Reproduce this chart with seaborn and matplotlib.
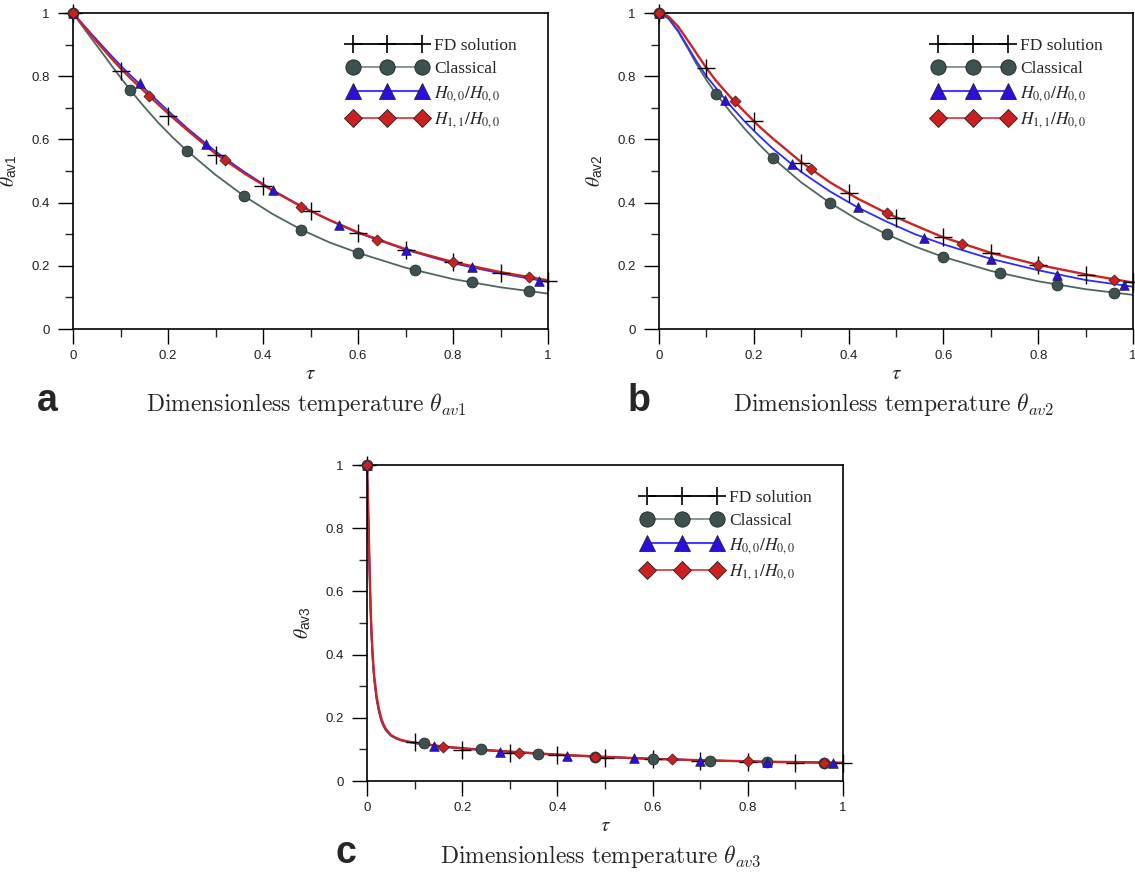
import numpy as np
import pandas as pd
import seaborn as sns
import matplotlib.pyplot as plt
from matplotlib.lines import Line2D

# %% Valores lidos da figura
# marcadores (posições em tau)
tau_fd = [0, 0.1, 0.2, 0.3, 0.4, 0.5, 0.6, 0.7, 0.8, 0.9, 1.0]
tau_cl = [0, 0.12, 0.24, 0.36, 0.48, 0.6, 0.72, 0.84, 0.96]
tau_h00 = [0, 0.14, 0.28, 0.42, 0.56, 0.7, 0.84, 0.98]
tau_h11 = [0, 0.16, 0.32, 0.48, 0.64, 0.8, 0.96]

fd_a = [1, 0.818, 0.673, 0.552, 0.451, 0.372, 0.304, 0.251, 0.212, 0.178, 0.153]
cl_a = [1, 0.757, 0.564, 0.420, 0.314, 0.241, 0.186, 0.148, 0.119]
h00_a = [1, 0.778, 0.586, 0.439, 0.329, 0.251, 0.195, 0.153]
h11_a = [1, 0.736, 0.534, 0.386, 0.283, 0.212, 0.164]

fd_b = [1, 0.826, 0.657, 0.525, 0.430, 0.351, 0.290, 0.241, 0.204, 0.172, 0.148]
cl_b = [1, 0.745, 0.541, 0.400, 0.300, 0.228, 0.177, 0.140, 0.114]
h00_b = [1, 0.726, 0.521, 0.385, 0.287, 0.222, 0.172, 0.138]
h11_b = [1, 0.720, 0.507, 0.367, 0.269, 0.201, 0.156]

fd_c = [1, 0.122, 0.098, 0.088, 0.082, 0.074, 0.069, 0.063, 0.061, 0.058, 0.058]
cl_c = [1, 0.119, 0.100, 0.084, 0.075, 0.069, 0.063, 0.059, 0.057]
h00_c = [1, 0.112, 0.093, 0.080, 0.072, 0.064, 0.059, 0.056]
h11_c = [1, 0.109, 0.090, 0.077, 0.069, 0.063, 0.058]

# curvas (linhas contínuas)
tau_curve = [0, 0.02, 0.04, 0.06, 0.08, 0.1, 0.12, 0.15, 0.18, 0.21, 0.24,
             0.3, 0.36, 0.42, 0.48, 0.54, 0.6, 0.7, 0.8, 0.9, 1.0]
cl_line_a = [1, 0.958, 0.917, 0.877, 0.836, 0.796, 0.757, 0.703, 0.652, 0.606, 0.564,
             0.488, 0.421, 0.364, 0.315, 0.274, 0.241, 0.194, 0.158, 0.132, 0.112]
h00_line_a = [1, 0.966, 0.932, 0.899, 0.866, 0.834, 0.804, 0.762, 0.719, 0.677, 0.636,
              0.562, 0.498, 0.440, 0.389, 0.344, 0.304, 0.251, 0.208, 0.176, 0.149]
h11_line_a = [1, 0.963, 0.927, 0.892, 0.858, 0.825, 0.795, 0.752, 0.710, 0.669, 0.630,
              0.555, 0.493, 0.438, 0.388, 0.345, 0.306, 0.253, 0.212, 0.180, 0.154]

cl_line_b = [1, 0.982, 0.942, 0.890, 0.836, 0.788, 0.745, 0.688, 0.635, 0.586, 0.541,
             0.464, 0.400, 0.345, 0.300, 0.261, 0.228, 0.184, 0.151, 0.126, 0.108]
h00_line_b = [1, 0.984, 0.945, 0.895, 0.845, 0.800, 0.763, 0.708, 0.658, 0.613, 0.571,
              0.497, 0.436, 0.384, 0.340, 0.300, 0.268, 0.222, 0.186, 0.155, 0.134]
h11_line_b = [1, 0.989, 0.958, 0.915, 0.870, 0.826, 0.786, 0.735, 0.688, 0.643, 0.603,
              0.528, 0.465, 0.412, 0.367, 0.328, 0.290, 0.241, 0.203, 0.173, 0.147]

tau_curve_c = [0, 0.0025, 0.005, 0.0075, 0.01, 0.0125, 0.015, 0.02, 0.025, 0.03, 0.035,
               0.04, 0.05, 0.06, 0.07, 0.08, 0.1, 0.12, 0.16, 0.2, 0.24, 0.3, 0.36,
               0.42, 0.48, 0.6, 0.72, 0.84, 1.0]
cl_line_c = [1, 0.84, 0.68, 0.54, 0.44, 0.37, 0.32, 0.258, 0.218, 0.190, 0.172,
             0.159, 0.143, 0.135, 0.129, 0.125, 0.120, 0.117, 0.109, 0.103, 0.099, 0.093, 0.087,
             0.082, 0.077, 0.070, 0.065, 0.061, 0.057]
h00_line_c = [1, 0.85, 0.69, 0.545, 0.45, 0.378, 0.328, 0.264, 0.223, 0.194, 0.175,
              0.161, 0.145, 0.136, 0.130, 0.126, 0.120, 0.116, 0.108, 0.103, 0.098, 0.092, 0.086,
              0.081, 0.077, 0.070, 0.065, 0.060, 0.057]
h11_line_c = [1, 0.86, 0.70, 0.55, 0.455, 0.385, 0.335, 0.27, 0.228, 0.198, 0.178,
              0.164, 0.146, 0.137, 0.131, 0.127, 0.121, 0.117, 0.109, 0.104, 0.099, 0.093, 0.087,
              0.082, 0.078, 0.070, 0.065, 0.061, 0.058]

tick_vals = [0, 0.2, 0.4, 0.6, 0.8, 1.0]
tick_labels = ['0', '0.2', '0.4', '0.6', '0.8', '1']
legend_labels = ['FD solution', 'Classical', r'$H_{0,0}/H_{0,0}$', r'$H_{1,1}/H_{0,0}$']

# %% Estilo
sns.set_style('ticks')
plt.rcParams['font.family'] = ['Liberation Sans', 'DejaVu Sans']
plt.rcParams['mathtext.fontset'] = 'stix'

cor_cl, cor_cl_line = '#3b5250', '#4f6664'
cor_h00, cor_h00_line = '#2a0fe0', '#2b2bff'
cor_h11, cor_h11_line = '#cc1f1f', '#cc2424'


def desenha_painel(ax, curve_tau, cl_line, h00_line, h11_line, fd, cl, h00, h11, sub):
    sns.lineplot(x=curve_tau, y=cl_line, ax=ax, color=cor_cl_line, lw=1.3, estimator=None, sort=False, zorder=2)
    sns.lineplot(x=curve_tau, y=h00_line, ax=ax, color=cor_h00_line, lw=1.3, estimator=None, sort=False, zorder=2.1)
    sns.lineplot(x=curve_tau, y=h11_line, ax=ax, color=cor_h11_line, lw=1.7, estimator=None, sort=False, zorder=2.2)
    sns.scatterplot(x=tau_fd, y=fd, ax=ax, marker='+', s=170, color='black', linewidth=1.0, zorder=3, clip_on=False)
    sns.scatterplot(x=tau_cl, y=cl, ax=ax, marker='o', s=62, color=cor_cl, edgecolor='#222222', linewidth=0.5, zorder=4, clip_on=False)
    sns.scatterplot(x=tau_h00, y=h00, ax=ax, marker='^', s=48, color=cor_h00, edgecolor='#222222', linewidth=0.5, zorder=4.1, clip_on=False)
    sns.scatterplot(x=tau_h11, y=h11, ax=ax, marker='D', s=32, color=cor_h11, edgecolor='#222222', linewidth=0.5, zorder=4.2, clip_on=False)

    ax.set_xlim(0, 1)
    ax.set_ylim(0, 1)
    ax.set_xticks(tick_vals)
    ax.set_xticklabels(tick_labels)
    ax.set_yticks(tick_vals)
    ax.set_yticklabels(tick_labels)
    ax.set_xticks([0.1, 0.3, 0.5, 0.7, 0.9], minor=True)
    ax.set_yticks([0.1, 0.3, 0.5, 0.7, 0.9], minor=True)
    ax.tick_params(which='major', direction='out', length=11, width=1.0, labelsize=9.5, colors='black', labelcolor='#222222')
    ax.tick_params(which='minor', direction='out', length=6, width=1.0)
    ax.tick_params(axis='x', which='major', pad=4)
    ax.tick_params(axis='y', which='major', pad=6)
    for s in ax.spines.values():
        s.set_linewidth(1.2)
        s.set_color('black')

    ax.set_xlabel(r'$\tau$', fontsize=15)
    ax.set_ylabel(r'$\theta_{\mathregular{' + sub + '}}$', fontsize=14)
    ax.xaxis.set_label_coords(0.5, -0.112)
    ax.yaxis.set_label_coords(-0.113, 0.5)

    handles = [
        Line2D([], [], color='black', lw=1.3, marker='+', markersize=13, markeredgewidth=1.2),
        Line2D([], [], color='#7d908d', lw=1.3, marker='o', markersize=11, markerfacecolor=cor_cl, markeredgecolor='#222222', markeredgewidth=0.6),
        Line2D([], [], color='#4b3cff', lw=1.5, marker='^', markersize=11, markerfacecolor=cor_h00, markeredgecolor='#222222', markeredgewidth=0.6),
        Line2D([], [], color='#e04040', lw=1.3, marker='D', markersize=9, markerfacecolor=cor_h11, markeredgecolor='#222222', markeredgewidth=0.6),
    ]
    ax.legend(handles, legend_labels, loc='upper left', bbox_to_anchor=(0.578, 0.92), frameon=False,
              numpoints=3, handlelength=4.6, handletextpad=0.4, labelspacing=0.38, borderpad=0,
              borderaxespad=0, prop={'family': 'Liberation Serif', 'size': 12.5})


# %% Figura
fig = plt.figure(figsize=(11.35, 8.75), dpi=100)
ax_a = fig.add_axes([73 / 1135, 1 - 329 / 875, 475 / 1135, 316 / 875])
ax_b = fig.add_axes([659 / 1135, 1 - 329 / 875, 474 / 1135, 316 / 875])
ax_c = fig.add_axes([367 / 1135, 1 - 781 / 875, 476 / 1135, 316 / 875])

desenha_painel(ax_a, tau_curve, cl_line_a, h00_line_a, h11_line_a, fd_a, cl_a, h00_a, h11_a, 'av1')
desenha_painel(ax_b, tau_curve, cl_line_b, h00_line_b, h11_line_b, fd_b, cl_b, h00_b, h11_b, 'av2')
desenha_painel(ax_c, tau_curve_c, cl_line_c, h00_line_c, h11_line_c, fd_c, cl_c, h00_c, h11_c, 'av3')

for letra, lx, tx, base, sub in [('a', 47, 306, 411, 'av1'), ('b', 639, 894, 411, 'av2'), ('c', 346, 601, 863, 'av3')]:
    fig.text(lx / 1135, 1 - base / 875, letra, fontsize=27, fontweight='bold', ha='center', va='baseline')
    fig.text(tx / 1135, 1 - base / 875, r'$\mathrm{Dimensionless\ temperature}\ \theta_{' + sub + '}$',
             math_fontfamily='cm', fontsize=17, ha='center', va='baseline')

plt.savefig('out.png', dpi=100)
